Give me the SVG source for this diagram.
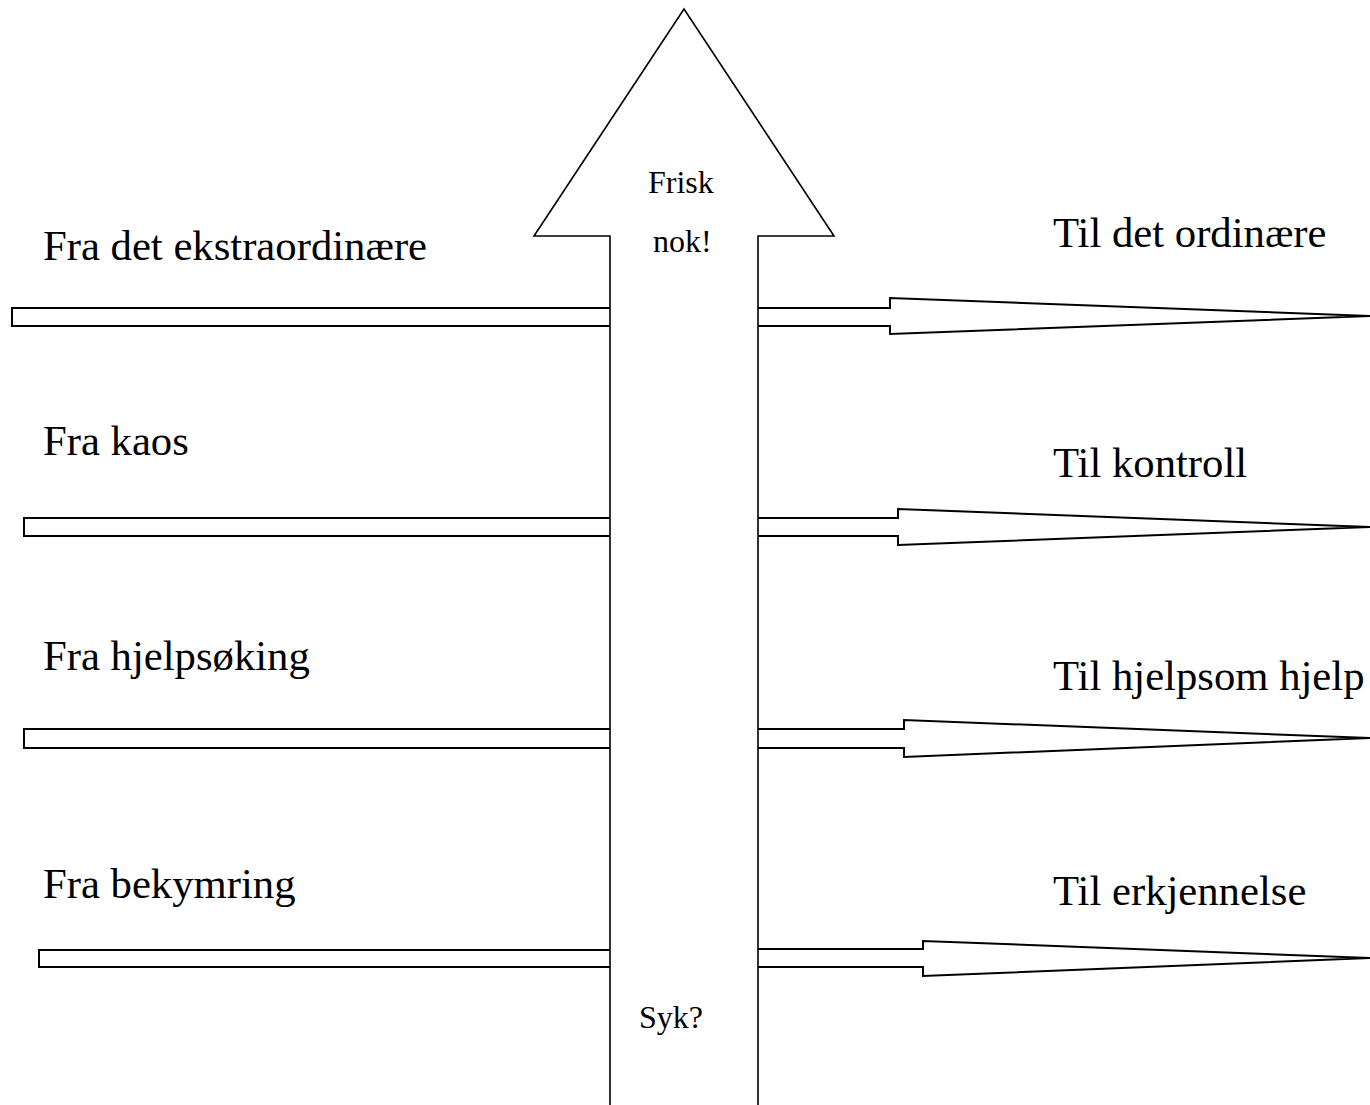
<svg xmlns="http://www.w3.org/2000/svg" width="1370" height="1105" viewBox="0 0 1370 1105">
<style>
.arr{fill:#fff;stroke:#000;stroke-width:2;stroke-linejoin:miter}
.big{fill:#fff;stroke:#000;stroke-width:1.6}
.lbl{font-family:"Liberation Serif","Times New Roman",serif;font-size:42.7px;fill:#000}
.sm{font-family:"Liberation Serif","Times New Roman",serif;font-size:32px;fill:#000}
</style>
<rect width="1370" height="1105" fill="#fff"/>
<g id="connectors">
<rect class="arr" x="12" y="308" width="600" height="18"/>
<polygon class="arr" points="756,308 890,308 890,298 1370,316 890,334 890,326 756,326"/>
<rect class="arr" x="24" y="518" width="588" height="18"/>
<polygon class="arr" points="756,518 898,518 898,509 1370,527 898,545 898,536 756,536"/>
<rect class="arr" x="24" y="729" width="588" height="19"/>
<polygon class="arr" points="756,729 904,729 904,720 1370,738 904,757 904,748 756,748"/>
<rect class="arr" x="39" y="950" width="573" height="17"/>
<polygon class="arr" points="756,949 923,949 923,941 1370,958 923,976 923,967 756,967"/>
</g>
<g id="main-arrow">
<polygon class="big" points="610,1110 610,236 534,236 684,9 834,236 758,236 758,1110"/>
<text class="sm" x="648" y="193">Frisk</text>
<text class="sm" x="653" y="252">nok!</text>
<text class="sm" x="639" y="1028">Syk?</text>
</g>
<g id="left-labels">
<text class="lbl" x="43" y="260">Fra det ekstraordinære</text>
<text class="lbl" x="43" y="455">Fra kaos</text>
<text class="lbl" x="43" y="670">Fra hjelpsøking</text>
<text class="lbl" x="43" y="898">Fra bekymring</text>
</g>
<g id="right-labels">
<text class="lbl" x="1053" y="247">Til det ordinære</text>
<text class="lbl" x="1053" y="477">Til kontroll</text>
<text class="lbl" x="1053" y="690">Til hjelpsom hjelp</text>
<text class="lbl" x="1053" y="905">Til erkjennelse</text>
</g>
</svg>
